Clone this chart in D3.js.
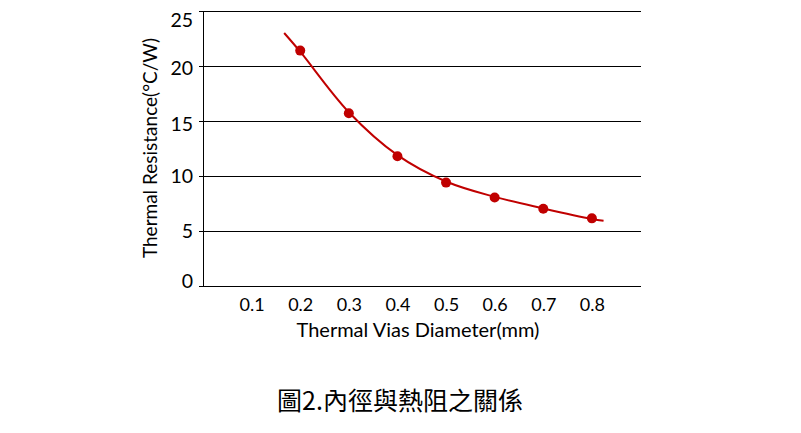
<!DOCTYPE html>
<html><head><meta charset="utf-8">
<script src="https://cdn.jsdelivr.net/npm/d3@7"></script>
<style>body{margin:0;background:#fff}</style>
</head><body>
<svg id="c" width="801" height="433"></svg>
<script>
const diameters = [0.2, 0.3, 0.4, 0.5, 0.6, 0.7, 0.8];
const resistance = [21.4, 15.7, 11.8, 9.4, 8.05, 7.03, 6.15];
const trendX = [0.167, 0.2, 0.3, 0.4, 0.5, 0.6, 0.7, 0.8, 0.824];
const trendY = [23.0, 21.3, 15.8, 11.9, 9.5, 8.1, 7.05, 6.1, 5.94];
const xTicks = [0.1, 0.2, 0.3, 0.4, 0.5, 0.6, 0.7, 0.8];
const yTicks = [0, 5, 10, 15, 20, 25];
const xTitle = "Thermal Vias Diameter(mm)";
const yTitle = "Thermal Resistance(°C/W)";
const caption = "圖2.內徑與熱阻之關係";

const svg = d3.select("#c");
const font = "Lato, 'Open Sans', sans-serif";
const x = d3.scaleLinear().domain([0, 0.9]).range([203, 640.5]);
const y = d3.scaleLinear().domain([0, 25]).range([286, 11]);
const red = "#c00000";

// gridlines
svg.append("g").selectAll("line").data(yTicks.filter(d => d > 0)).join("line")
  .attr("x1", x(0)).attr("x2", x(0.9))
  .attr("y1", d => y(d)).attr("y2", d => y(d))
  .attr("stroke", "#000").attr("stroke-width", 1).attr("shape-rendering", "crispEdges");

// y axis
const yAxis = svg.append("g").attr("transform", `translate(${x(0)},0)`)
  .call(d3.axisLeft(y).tickValues(yTicks).tickSize(4).tickSizeOuter(0).tickPadding(6).tickFormat(d3.format("d")));
yAxis.select(".domain").attr("stroke", "#000").attr("shape-rendering", "crispEdges");
yAxis.selectAll(".tick line").attr("stroke", "#000").attr("shape-rendering", "crispEdges");
const yOff = {0: -5, 25: 9, 20: 2, 15: 3};
yAxis.selectAll("text").attr("font-family", font).attr("font-size", 19.5).attr("fill", "#000")
  .attr("transform", d => `translate(0,${yOff[d] || 0})`);

// x axis
const xAxis = svg.append("g").attr("transform", `translate(0,${y(0)})`)
  .call(d3.axisBottom(x).tickValues(xTicks).tickSize(0).tickPadding(12).tickFormat(d3.format(".1f")));
xAxis.select(".domain").attr("d", `M199,0.5H${x(0.9)}`).attr("stroke", "#000").attr("shape-rendering", "crispEdges");
xAxis.selectAll("text").attr("font-family", font).attr("font-size", 18).attr("fill", "#000");

// trend curve
const line = d3.line().x((d, i) => x(trendX[i])).y(d => y(d)).curve(d3.curveCatmullRom.alpha(0.5));
svg.append("path").datum(trendY).attr("d", line)
  .attr("fill", "none").attr("stroke", red).attr("stroke-width", 2);

// points
svg.append("g").selectAll("circle").data(diameters).join("circle")
  .attr("cx", d => x(d)).attr("cy", (d, i) => y(resistance[i])).attr("r", 5)
  .attr("fill", red);

// titles
svg.append("text").attr("x", 418).attr("y", 337).attr("text-anchor", "middle")
  .attr("font-family", font).attr("font-size", 20).attr("fill", "#000").text(xTitle);
svg.append("text").attr("transform", "translate(157,148) rotate(-90)").attr("text-anchor", "middle")
  .attr("font-family", font).attr("font-size", 19).attr("fill", "#000").text(yTitle);
svg.append("text").attr("x", 400).attr("y", 410).attr("text-anchor", "middle")
  .attr("font-family", "'Noto Sans CJK TC', sans-serif").attr("font-size", 25).attr("fill", "#000").text(caption);
</script>
</body></html>
